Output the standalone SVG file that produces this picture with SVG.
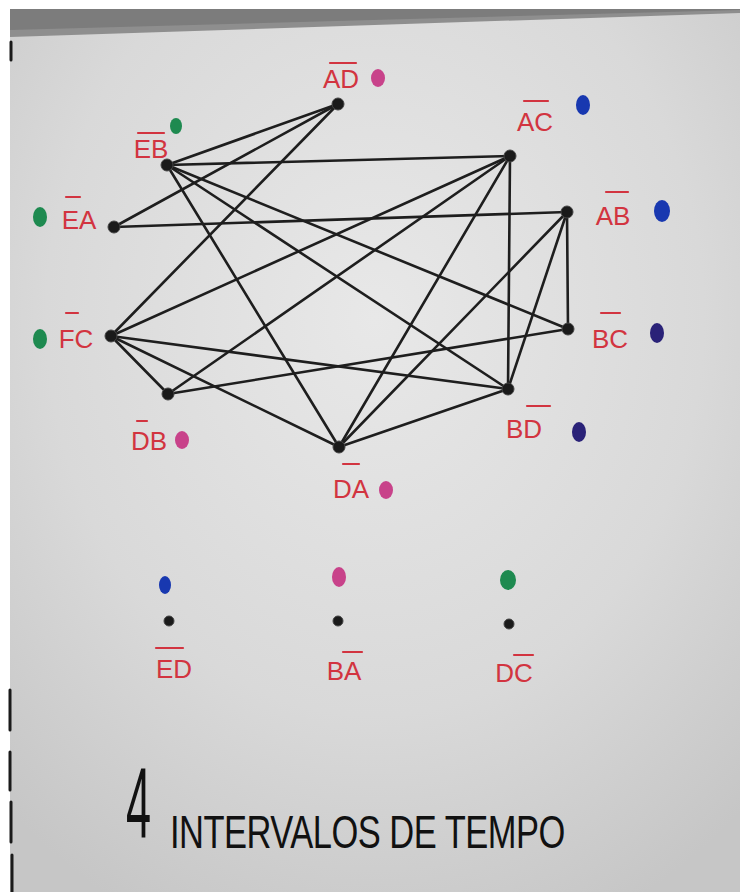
<svg xmlns="http://www.w3.org/2000/svg" width="740" height="892" viewBox="0 0 740 892">
<defs>
<radialGradient id="board" cx="0.5" cy="0.35" r="0.75">
<stop offset="0" stop-color="#e8e8e8"/>
<stop offset="0.6" stop-color="#d9d9d9"/>
<stop offset="1" stop-color="#c6c6c6"/>
</radialGradient>
<style>
.edge{stroke:#1e1e1e;stroke-width:2.6;stroke-linecap:round;fill:none}
.node{fill:#1a1a1a;stroke:#444;stroke-width:1}
.lbl{font-family:"Liberation Sans",Arial,sans-serif;font-size:26px;fill:#d23440;text-anchor:middle}
.bar{stroke:#d23440;stroke-width:2.2;stroke-linecap:round}
.title{font-family:"Liberation Sans",Arial,sans-serif;fill:#111}
.pink{fill:#c8428a}
.green{fill:#1e8a50}
.blue{fill:#1838b0}
.navy{fill:#2a2278}
.mark{stroke:#1a1a1a;stroke-width:3;stroke-linecap:round}
</style>
</defs>
<rect x="0" y="0" width="740" height="892" fill="#ffffff"/>
<rect x="10" y="9" width="730" height="883" fill="url(#board)"/>
<polygon points="10,9 740,9 740,12 10,36" fill="#7c7c7c"/>
<polygon points="10,30 740,10 740,13 10,37" fill="#8e8e8e"/>
<g id="edge-marks">
<line class="mark" x1="11" y1="42" x2="11" y2="60"/>
<line class="mark" x1="10" y1="690" x2="10" y2="730"/>
<line class="mark" x1="10" y1="752" x2="10" y2="790"/>
<line class="mark" x1="11" y1="802" x2="11" y2="842"/>
<line class="mark" x1="12" y1="855" x2="12" y2="892"/>
</g>
<g id="connectors">
<line class="edge" x1="338" y1="104" x2="167" y2="165"/>
<line class="edge" x1="338" y1="104" x2="114" y2="227"/>
<line class="edge" x1="338" y1="104" x2="111" y2="336"/>
<line class="edge" x1="167" y1="165" x2="510" y2="156"/>
<line class="edge" x1="167" y1="165" x2="339" y2="447"/>
<line class="edge" x1="167" y1="165" x2="568" y2="329"/>
<line class="edge" x1="167" y1="165" x2="508" y2="389"/>
<line class="edge" x1="114" y1="227" x2="567" y2="212"/>
<line class="edge" x1="510" y1="156" x2="111" y2="336"/>
<line class="edge" x1="510" y1="156" x2="168" y2="394"/>
<line class="edge" x1="510" y1="156" x2="339" y2="447"/>
<line class="edge" x1="510" y1="156" x2="508" y2="389"/>
<line class="edge" x1="567" y1="212" x2="568" y2="329"/>
<line class="edge" x1="567" y1="212" x2="339" y2="447"/>
<line class="edge" x1="567" y1="212" x2="508" y2="389"/>
<line class="edge" x1="111" y1="336" x2="168" y2="394"/>
<line class="edge" x1="111" y1="336" x2="508" y2="389"/>
<line class="edge" x1="111" y1="336" x2="339" y2="447"/>
<line class="edge" x1="168" y1="394" x2="568" y2="329"/>
<line class="edge" x1="339" y1="447" x2="508" y2="389"/>
</g>
<g id="AD">
<circle class="node" cx="338" cy="104" r="6"/>
<text class="lbl" x="341" y="88">AD</text>
<line class="bar" x1="330" y1="63" x2="356" y2="63"/>
<ellipse class="pink" cx="378" cy="78" rx="7" ry="9"/>
</g>
<g id="EB">
<circle class="node" cx="167" cy="165" r="6"/>
<text class="lbl" x="151" y="158">EB</text>
<line class="bar" x1="138" y1="133" x2="164" y2="133"/>
<ellipse class="green" cx="176" cy="126" rx="6" ry="8"/>
</g>
<g id="AC">
<circle class="node" cx="510" cy="156" r="6"/>
<text class="lbl" x="535" y="131">AC</text>
<line class="bar" x1="524" y1="101" x2="548" y2="101"/>
<ellipse class="blue" cx="583" cy="105" rx="7" ry="10"/>
</g>
<g id="EA">
<circle class="node" cx="114" cy="227" r="6"/>
<text class="lbl" x="79" y="229">EA</text>
<line class="bar" x1="66" y1="197" x2="80" y2="197"/>
<ellipse class="green" cx="40" cy="217" rx="7" ry="10"/>
</g>
<g id="AB">
<circle class="node" cx="567" cy="212" r="6"/>
<text class="lbl" x="613" y="225">AB</text>
<line class="bar" x1="606" y1="192" x2="628" y2="192"/>
<ellipse class="blue" cx="662" cy="211" rx="8" ry="11"/>
</g>
<g id="FC">
<circle class="node" cx="111" cy="336" r="6"/>
<text class="lbl" x="76" y="348">FC</text>
<line class="bar" x1="66" y1="313" x2="78" y2="313"/>
<ellipse class="green" cx="40" cy="339" rx="7" ry="10"/>
</g>
<g id="BC">
<circle class="node" cx="568" cy="329" r="6"/>
<text class="lbl" x="610" y="348">BC</text>
<line class="bar" x1="601" y1="313" x2="620" y2="313"/>
<ellipse class="navy" cx="657" cy="333" rx="7" ry="10"/>
</g>
<g id="DB">
<circle class="node" cx="168" cy="394" r="6"/>
<text class="lbl" x="149" y="450">DB</text>
<line class="bar" x1="137" y1="421" x2="147" y2="421"/>
<ellipse class="pink" cx="182" cy="440" rx="7" ry="9"/>
</g>
<g id="BD">
<circle class="node" cx="508" cy="389" r="6"/>
<text class="lbl" x="524" y="438">BD</text>
<line class="bar" x1="527" y1="406" x2="550" y2="406"/>
<ellipse class="navy" cx="579" cy="432" rx="7" ry="10"/>
</g>
<g id="DA">
<circle class="node" cx="339" cy="447" r="6"/>
<text class="lbl" x="351" y="498">DA</text>
<line class="bar" x1="343" y1="464" x2="359" y2="464"/>
<ellipse class="pink" cx="386" cy="490" rx="7" ry="9"/>
</g>
<g id="ED">
<ellipse class="blue" cx="165" cy="585" rx="6" ry="9"/>
<circle class="node" cx="169" cy="621" r="5"/>
<text class="lbl" x="174" y="678">ED</text>
<line class="bar" x1="156" y1="648" x2="183" y2="648"/>
</g>
<g id="BA">
<ellipse class="pink" cx="339" cy="577" rx="7" ry="10"/>
<circle class="node" cx="338" cy="621" r="5"/>
<text class="lbl" x="344" y="680">BA</text>
<line class="bar" x1="343" y1="652" x2="362" y2="652"/>
</g>
<g id="DC">
<ellipse class="green" cx="508" cy="580" rx="8" ry="10"/>
<circle class="node" cx="509" cy="624" r="5"/>
<text class="lbl" x="514" y="682">DC</text>
<line class="bar" x1="514" y1="655" x2="533" y2="655"/>
</g>
<g id="title">
<text class="title" font-size="100" transform="translate(126 838) scale(0.45 1)">4</text>
<text class="title" font-size="46" textLength="527" lengthAdjust="spacing" transform="translate(170 848) scale(0.75 1)">INTERVALOS DE TEMPO</text>
</g>
</svg>
